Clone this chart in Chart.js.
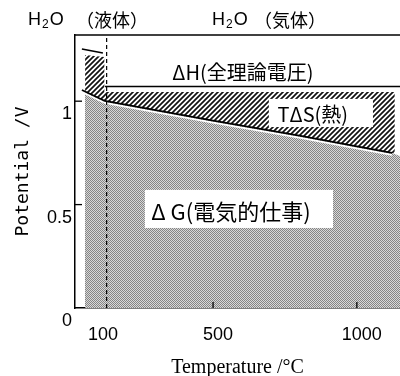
<!DOCTYPE html>
<html><head><meta charset="utf-8">
<script src="https://cdn.jsdelivr.net/npm/chart.js@4"></script>
<style>html,body{margin:0;padding:0;background:#fff;}canvas{display:block;}</style>
</head><body>
<canvas id="c" width="400" height="376"></canvas>
<script>
// ---- data ----
const tempTicks = [100, 500, 1000];            // °C
const potentialTicks = [0, 0.5, 1];            // V
const phaseTemp = 130;                          // liquid / gas boundary drawn in figure
// ΔG line (electrical work)
const dgTemp = [44, 124, 300, 500, 800, 1000, 1122];
const dgPot  = [1.054, 1.001, 0.957, 0.906, 0.834, 0.782, 0.750];
// ΔG shaded area top
const dgAreaTemp = [55, 124, 300, 500, 800, 1000, 1122, 1150];
const dgAreaPot  = [1.047, 1.001, 0.957, 0.906, 0.834, 0.782, 0.750, 0.735];
// ΔH (total theoretical voltage)
const dhLiqTemp = [44, 117];
const dhLiqPot  = [1.252, 1.233];
const dhGasTemp = [124, 1150];
const dhGasPot  = [1.071, 1.071];
// TΔS (heat) hatched area top
const tdsTemp = [55, 122, 122, 1132];
const tdsPot  = [1.223, 1.214, 1.044, 1.044];

const pts = (xs, ys) => xs.map((x, i) => ({x, y: ys[i]}));

// ---- patterns ----
function hatchPattern() {
  const n = 5;
  const c = document.createElement('canvas'); c.width = n; c.height = n;
  const g = c.getContext('2d');
  g.fillStyle = '#fff'; g.fillRect(0, 0, n, n);
  g.strokeStyle = '#111'; g.lineWidth = 1.7;
  g.beginPath();
  g.moveTo(-1, n + 1); g.lineTo(n + 1, -1);
  g.moveTo(-1, 1); g.lineTo(1, -1);
  g.moveTo(n - 1, n + 1); g.lineTo(n + 1, n - 1);
  g.stroke();
  return g.createPattern(c, 'repeat');
}
function dotPattern() {
  const c = document.createElement('canvas'); c.width = 2; c.height = 2;
  const g = c.getContext('2d');
  g.fillStyle = '#d8d8d8'; g.fillRect(0, 0, 2, 2);
  g.fillStyle = '#858585'; g.fillRect(0, 0, 1, 1); g.fillRect(1, 1, 1, 1);
  return g.createPattern(c, 'repeat');
}
const ctx0 = document.getElementById('c').getContext('2d');

const haloPlugin = {
  id: 'halo',
  beforeDatasetDraw(chart, args) {
    if (chart.data.datasets[args.index].label === 'halo') { chart.ctx.save(); chart.ctx.translate(0, 2); }
  },
  afterDatasetDraw(chart, args) {
    if (chart.data.datasets[args.index].label === 'halo') chart.ctx.restore();
  }
};

const decoPlugin = {
  id: 'deco',
  afterDatasetsDraw(chart) {
    const {ctx, chartArea: a, scales: {x, y}} = chart;
    ctx.save();
    // inward tick marks
    ctx.strokeStyle = '#000'; ctx.lineWidth = 1.3;
    potentialTicks.forEach(v => { if (v > 0) { const py = y.getPixelForValue(v); ctx.beginPath(); ctx.moveTo(a.left, py); ctx.lineTo(a.left + 7, py); ctx.stroke(); } });
    tempTicks.forEach(v => { if (v > phaseTemp) { const px = x.getPixelForValue(v); ctx.beginPath(); ctx.moveTo(px, a.bottom); ctx.lineTo(px, a.bottom - 6); ctx.stroke(); } });
    // top frame line
    ctx.lineWidth = 1.5;
    ctx.beginPath(); ctx.moveTo(a.left, a.top); ctx.lineTo(a.right, a.top); ctx.stroke();
    // white label boxes
    const box = (x1, x2, y1, y2) => {
      const px1 = x.getPixelForValue(x1), px2 = x.getPixelForValue(x2);
      const py1 = y.getPixelForValue(y1), py2 = y.getPixelForValue(y2);
      ctx.fillStyle = '#fff'; ctx.fillRect(px1, py1, px2 - px1, py2 - py1);
    };
    box(694, 1056, 1.011, 0.875);
    box(263, 917, 0.571, 0.387);
    // texts
    ctx.fillStyle = '#000'; ctx.textAlign = 'center'; ctx.textBaseline = 'middle';
    ctx.font = '20px "Noto Sans CJK JP", "Noto Sans", sans-serif';
    ctx.fillText('ΔH(全理論電圧)', x.getPixelForValue(604), y.getPixelForValue(1.141));
    ctx.fillText('TΔS(熱)', x.getPixelForValue(847), y.getPixelForValue(0.938));
    ctx.font = '22px "Noto Sans CJK JP", "Noto Sans", sans-serif';
    ctx.fillText('Δ G(電気的仕事)', x.getPixelForValue(562), y.getPixelForValue(0.464));
    // phase labels above the plot
    const h2o = (left, cy) => {
      ctx.textAlign = 'left';
      ctx.font = '18px "Liberation Sans", sans-serif';
      ctx.fillText('H', left, cy);
      let w = ctx.measureText('H').width;
      ctx.font = '12px "Liberation Sans", sans-serif';
      ctx.fillText('2', left + w + 1, cy + 5);
      w += ctx.measureText('2').width + 2;
      ctx.font = '18px "Liberation Sans", sans-serif';
      ctx.fillText('O', left + w, cy);
    };
    h2o(28, 20);
    h2o(212, 20);
    ctx.textAlign = 'center';
    ctx.font = '18px "Noto Sans CJK JP", sans-serif';
    ctx.fillText('（液体）', 112, 20);
    ctx.fillText('（気体）', 290, 20);
    ctx.restore();
  }
};

new Chart(ctx0, {
  type: 'line',
  data: {
    datasets: [
      { label: 'phase', data: [{x: phaseTemp, y: 0}, {x: phaseTemp, y: 1.32}], borderColor: '#000', borderWidth: 1.2, borderDash: [4, 3], pointRadius: 0, fill: false, order: 0 },
      { label: 'dhLiq', data: pts(dhLiqTemp, dhLiqPot), borderColor: '#000', borderWidth: 1.6, pointRadius: 0, fill: false, order: 1 },
      { label: 'dhGas', data: pts(dhGasTemp, dhGasPot), borderColor: '#000', borderWidth: 1.6, pointRadius: 0, fill: false, order: 1 },
      { label: 'dG', data: pts(dgTemp, dgPot), borderColor: '#000', borderWidth: 1.8, pointRadius: 0, fill: false, order: 2 },
      { label: 'halo', data: pts(dgTemp, dgPot), borderColor: '#fff', borderWidth: 1.8, pointRadius: 0, fill: false, order: 3 },
      { label: 'dgArea', data: pts(dgAreaTemp, dgAreaPot), borderWidth: 0, borderColor: 'rgba(0,0,0,0)', pointRadius: 0, fill: 'origin', backgroundColor: dotPattern(), order: 4 },
      { label: 'tds', data: pts(tdsTemp, tdsPot), borderWidth: 0, borderColor: 'rgba(0,0,0,0)', pointRadius: 0, fill: 'origin', backgroundColor: hatchPattern(), order: 5 }
    ]
  },
  options: {
    responsive: false, animation: false, devicePixelRatio: 1,
    layout: { padding: { top: 35, right: 0, left: 0, bottom: 0 } },
    plugins: { legend: { display: false }, tooltip: { enabled: false } },
    elements: { line: { tension: 0 } },
    scales: {
      x: {
        type: 'linear', min: 20, max: 1150,
        afterBuildTicks: s => { s.ticks = tempTicks.map(v => ({value: v})); },
        afterFit: s => { s.height = 68; },
        grid: { display: false, drawTicks: false },
        border: { display: true, color: '#000', width: 1.5 },
        ticks: { color: '#000', padding: 16, labelOffset: 5, maxRotation: 0, callback: v => String(v), font: { family: '"Liberation Sans", sans-serif', size: 18 } },
        title: { display: true, text: 'Temperature /°C', color: '#000', padding: 0, font: { family: '"Liberation Serif", serif', size: 20, lineHeight: 0.8 } }
      },
      y: {
        type: 'linear', min: 0, max: 1.32,
        afterBuildTicks: s => { s.ticks = potentialTicks.map(v => ({value: v})); },
        afterFit: s => { s.width = 75; },
        grid: { display: false, drawTicks: false },
        border: { display: true, color: '#000', width: 1.5 },
        ticks: { color: '#000', padding: 3, labelOffset: 13, callback: v => String(v), font: { family: '"Liberation Sans", sans-serif', size: 18 } },
        title: { display: true, text: 'Potential /V', color: '#000', padding: { top: 13, bottom: 0 }, font: { family: '"DejaVu Sans Mono", monospace', size: 18, lineHeight: 1.2 } }
      }
    }
  },
  plugins: [haloPlugin, decoPlugin]
});
</script>
</body></html>
